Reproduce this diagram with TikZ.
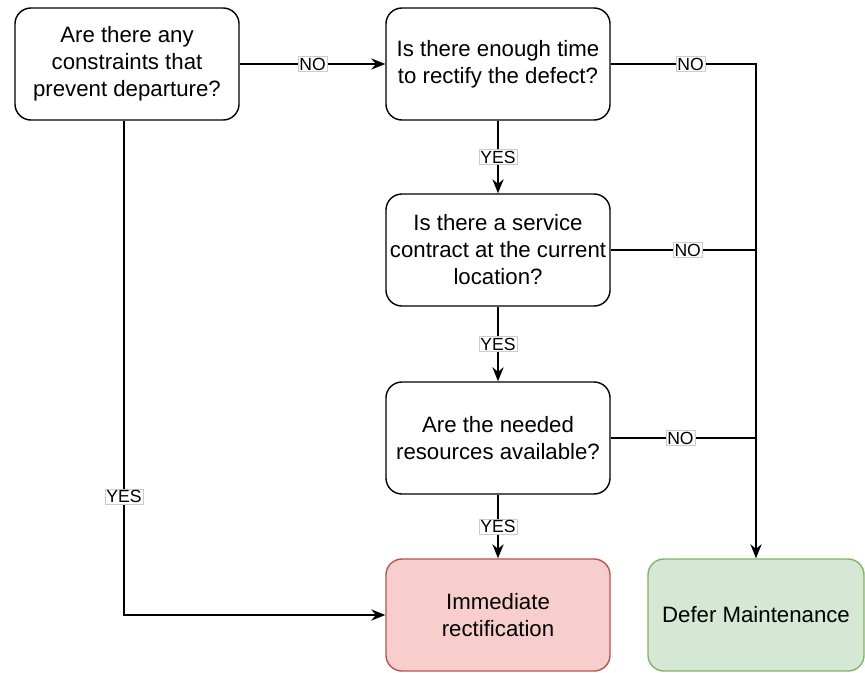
\documentclass[tikz,border=0pt]{standalone}
\usepackage{fontspec}
\setmainfont{Liberation Sans}
\usepackage{tikz}
\usetikzlibrary{arrows.meta,calc}
\definecolor{redfill}{HTML}{F8CECC}
\definecolor{redline}{HTML}{B85450}
\definecolor{greenfill}{HTML}{D5E8D4}
\definecolor{greenline}{HTML}{82B366}
\tikzset{
  question/.style={draw, rounded corners=0.4cm, line width=1pt, minimum width=5.6cm, minimum height=2.8cm,
    align=center, inner sep=1pt, font=\fontsize{15.8}{19.2}\selectfont},
  outcome/.style={question, draw=#1line, fill=#1fill},
  lbl/.style={fill=white, draw=gray!40, very thin, inner sep=1pt, font=\fontsize{12.5}{13}\selectfont},
  flow/.style={line width=1pt, -{Stealth[length=10pt,width=8pt]}},
  link/.style={line width=1pt}
}
\begin{document}
\begin{tikzpicture}[x=0.025cm,y=-0.025cm]
\useasboundingbox (0,0) rectangle (865,672);
% decision boxes
\node[question] (constr) at (127,64) {Are there any\\constraints that\\prevent departure?};
\node[question] (time) at (498,64) {Is there enough time\\to rectify the defect?};
\node[question] (contract) at (498,250) {Is there a service\\contract at the current\\location?};
\node[question] (resources) at (498,438) {Are the needed\\resources available?};
% outcomes
\node[outcome=red] (fix) at (498,615) {Immediate\\rectification};
\node[outcome=green, minimum width=5.4cm] (defer) at (756,615) {Defer Maintenance};
% connectors
\draw[flow] (constr) -- node[lbl]{NO} (time);
\draw[flow] ([xshift=-0.075cm]constr.south) |- node[lbl,pos=0.38]{YES} (fix.west);
\draw[flow] (time) -- node[lbl]{YES} (contract);
\draw[flow] (contract) -- node[lbl]{YES} (resources);
\draw[flow] (resources) -- node[lbl]{YES} (fix);
\draw[flow] (time.east) -- node[lbl,pos=0.55]{NO} (time.east -| defer.north) -- (defer.north);
\draw[link] (contract.east) -- node[lbl,pos=0.53]{NO} (contract.east -| defer.north);
\draw[link] (resources.east) -- node[lbl,pos=0.48]{NO} (resources.east -| defer.north);
\end{tikzpicture}
\end{document}
